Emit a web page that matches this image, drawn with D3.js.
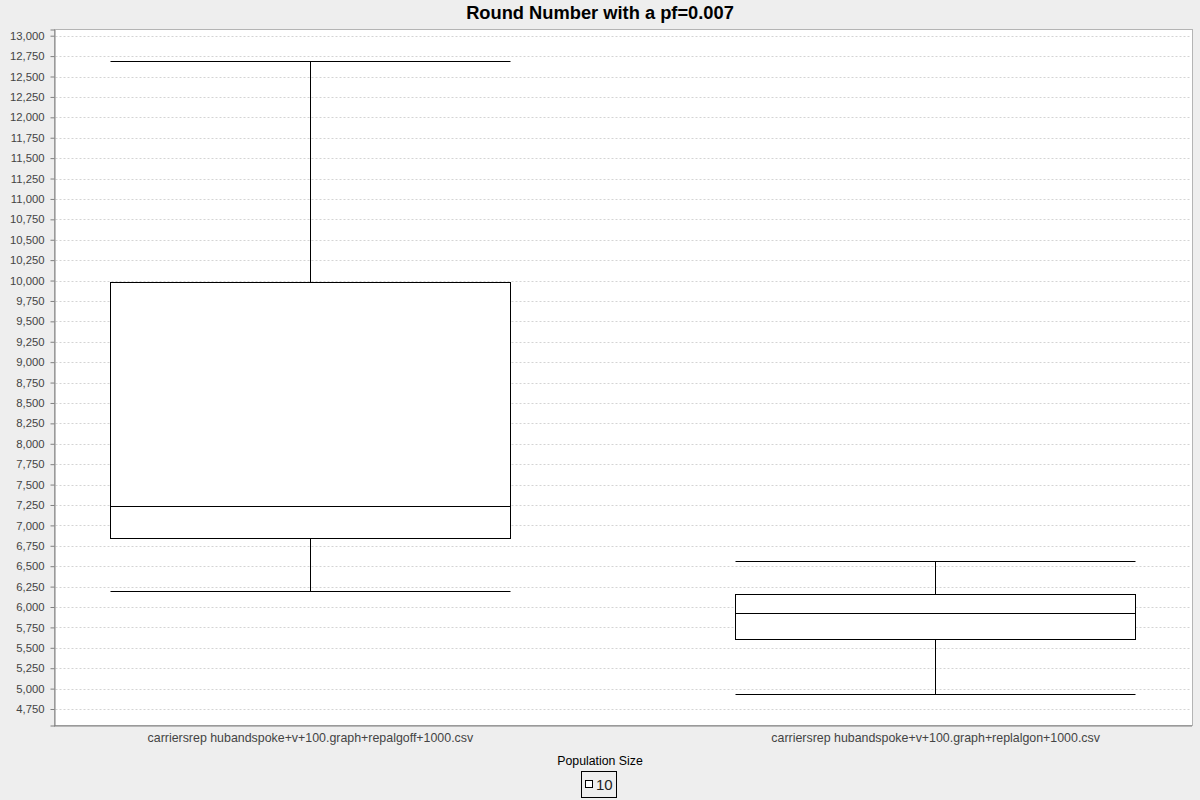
<!DOCTYPE html>
<html><head><meta charset="utf-8">
<script src="https://cdn.jsdelivr.net/npm/d3@7"></script>
<style>
html,body{margin:0;padding:0;background:#eeeeee;}
svg{display:block;}
text{font-family:"Liberation Sans",Arial,sans-serif;}
</style></head>
<body>
<svg id="chart" width="1200" height="800"></svg>
<script>
const categories = [
  "carriersrep hubandspoke+v+100.graph+repalgoff+1000.csv",
  "carriersrep hubandspoke+v+100.graph+replalgon+1000.csv"
];
const whiskerLow  = [6200, 4937];
const q1Values    = [6850, 5602];
const medians     = [7240, 5930];
const q3Values    = [9985, 6163];
const whiskerHigh = [12696, 6558];
const yTicks = d3.range(4750, 13001, 250);
const seriesName = "10";
const legendTitle = "Population Size";
const title = "Round Number with a pf=0.007";

const svg = d3.select("#chart");
const W = 1200, H = 800;
svg.append("rect").attr("width", W).attr("height", H).attr("fill", "#eeeeee");

const plot = {left: 54.5, top: 29.5, right: 1192.5, bottom: 725.5};

const y = d3.scaleLinear().domain([4548, 13076]).range([plot.bottom, plot.top]);
const x = d3.scalePoint().domain(categories).range([plot.left - 1, plot.right - 1]).padding(0.41);
const boxW = x.step() * 0.64;

// plot background
svg.append("rect").attr("x", plot.left).attr("y", plot.top)
  .attr("width", plot.right - plot.left).attr("height", plot.bottom - plot.top)
  .attr("fill", "#ffffff").attr("stroke", "#b4b4b4").attr("stroke-width", 1);

// gridlines
svg.append("g").selectAll("line").data(yTicks).join("line")
  .attr("x1", plot.left + 1).attr("x2", plot.right - 1)
  .attr("y1", d => Math.round(y(d)) + 0.5).attr("y2", d => Math.round(y(d)) + 0.5)
  .attr("stroke", "#d4d4d4").attr("stroke-width", 1).attr("stroke-dasharray", "2,2");

// y axis
const yAxis = d3.axisLeft(y).tickValues(yTicks).tickSize(4).tickPadding(6)
  .tickFormat(d3.format(","));
const gy = svg.append("g").attr("transform", `translate(${plot.left},0)`).call(yAxis);
gy.select(".domain").attr("stroke", "#808080");
gy.selectAll(".tick line").attr("stroke", "#808080");
gy.selectAll(".tick text").attr("font-size", 11.3).attr("fill", "#444444")
  .attr("font-family", "Liberation Sans, Arial, sans-serif");

// x axis
const xAxis = d3.axisBottom(x).tickSize(0).tickPadding(8);
const gx = svg.append("g").attr("transform", `translate(0,${plot.bottom})`).call(xAxis);
gx.select(".domain").attr("stroke", "#808080");
gx.selectAll(".tick text").attr("font-size", 12.4).attr("fill", "#444444")
  .attr("font-family", "Liberation Sans, Arial, sans-serif");

// boxes
const data = categories.map((c, i) => ({
  c, lo: whiskerLow[i], q1: q1Values[i], med: medians[i], q3: q3Values[i], hi: whiskerHigh[i]
}));
const px = v => Math.round(v) + 0.5;
const g = svg.append("g").attr("stroke", "#000").attr("stroke-width", 1).attr("fill", "none");
data.forEach(d => {
  const cx = px(x(d.c));
  const x0 = Math.round(x(d.c) - boxW / 2) + 0.5, x1 = Math.round(x(d.c) + boxW / 2) + 0.5;
  g.append("line").attr("x1", cx).attr("x2", cx).attr("y1", px(y(d.hi))).attr("y2", px(y(d.q3)));
  g.append("line").attr("x1", cx).attr("x2", cx).attr("y1", px(y(d.q1))).attr("y2", px(y(d.lo)));
  g.append("line").attr("x1", x0).attr("x2", x1).attr("y1", px(y(d.hi))).attr("y2", px(y(d.hi)));
  g.append("line").attr("x1", x0).attr("x2", x1).attr("y1", px(y(d.lo))).attr("y2", px(y(d.lo)));
  g.append("rect").attr("x", x0).attr("y", px(y(d.q3)))
    .attr("width", x1 - x0).attr("height", px(y(d.q1)) - px(y(d.q3))).attr("fill", "#ffffff");
  g.append("line").attr("x1", x0).attr("x2", x1).attr("y1", px(y(d.med))).attr("y2", px(y(d.med)));
});

// title
svg.append("text").attr("x", 600).attr("y", 19).attr("text-anchor", "middle")
  .attr("font-size", 18.3).attr("font-weight", "bold").attr("fill", "#000").text(title);

// legend
svg.append("text").attr("x", 600).attr("y", 765).attr("text-anchor", "middle")
  .attr("font-size", 12.3).attr("fill", "#000").text(legendTitle);
svg.append("rect").attr("x", 581.5).attr("y", 771.5).attr("width", 35).attr("height", 26)
  .attr("fill", "none").attr("stroke", "#000");
svg.append("rect").attr("x", 585.5).attr("y", 780.5).attr("width", 7).attr("height", 7)
  .attr("fill", "#fff").attr("stroke", "#000");
svg.append("text").attr("x", 596).attr("y", 790).attr("font-size", 15).attr("fill", "#222")
  .text(seriesName);
</script>
</body></html>
